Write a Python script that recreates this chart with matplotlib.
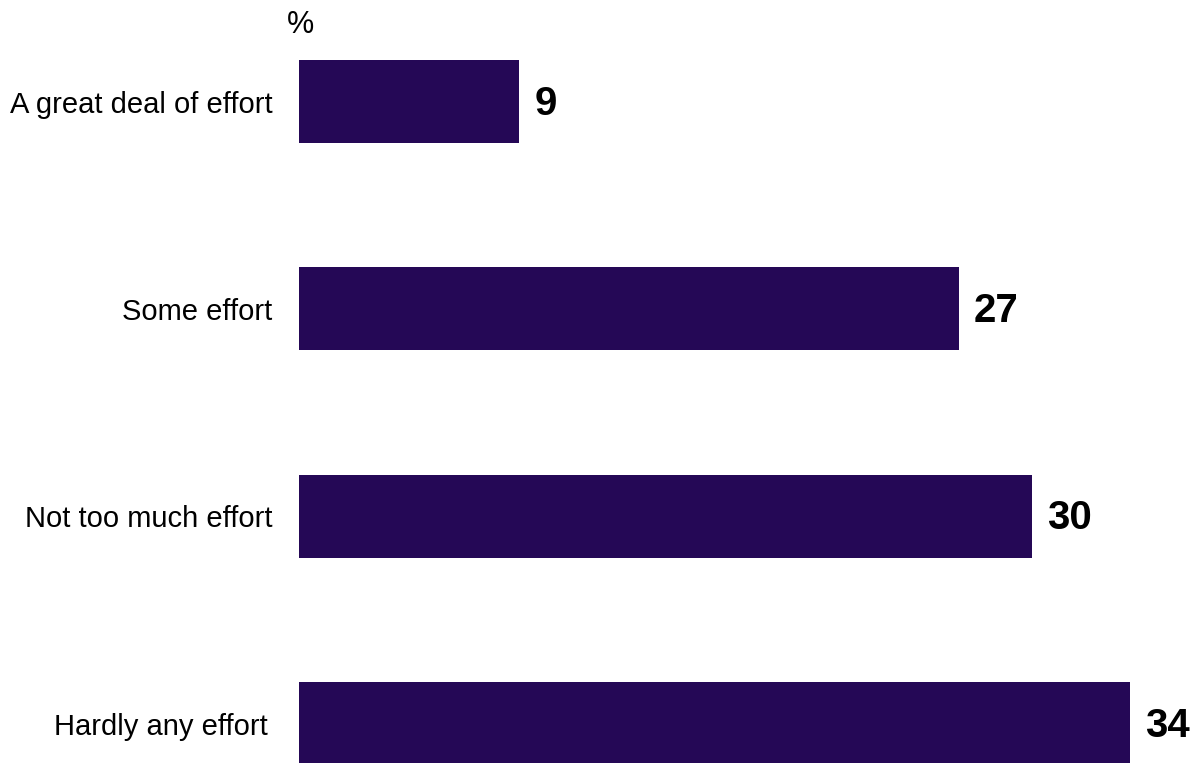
import matplotlib.pyplot as plt

categories = ["A great deal of effort", "Some effort", "Not too much effort", "Hardly any effort"]
values = [9, 27, 30, 34]

plt.rcParams['font.family'] = ['Liberation Sans', 'DejaVu Sans']

fig = plt.figure(figsize=(11.95, 7.63), dpi=100)
ax = fig.add_axes([299 / 1195, 0, (1195 - 299) / 1195, 1])

ypos = list(range(len(categories)))
ax.barh(ypos, values, height=0.4, color="#250856")
ax.set_xlim(0, 896 / 24.43)
ax.set_ylim(3.19, -0.49)

for y, v in zip(ypos, values):
    ax.annotate(str(v), xy=(v, y), xytext=(11, -1.5), textcoords="offset points",
                ha="left", va="center", fontsize=29, fontweight="bold", color="black")

ax.set_yticks(ypos)
ax.set_yticklabels(categories, fontsize=21)
ax.tick_params(axis="y", length=0, pad=19)
# last label sits a little further left in the original
ax.get_yticklabels()[-1].set_x(-5 / 896)
ax.set_xticks([])
for s in ax.spines.values():
    s.set_visible(False)

fig.text(301 / 1195, 1 - 25 / 763, "%", ha="center", va="center", fontsize=22)

fig.savefig("out.png", dpi=100)
